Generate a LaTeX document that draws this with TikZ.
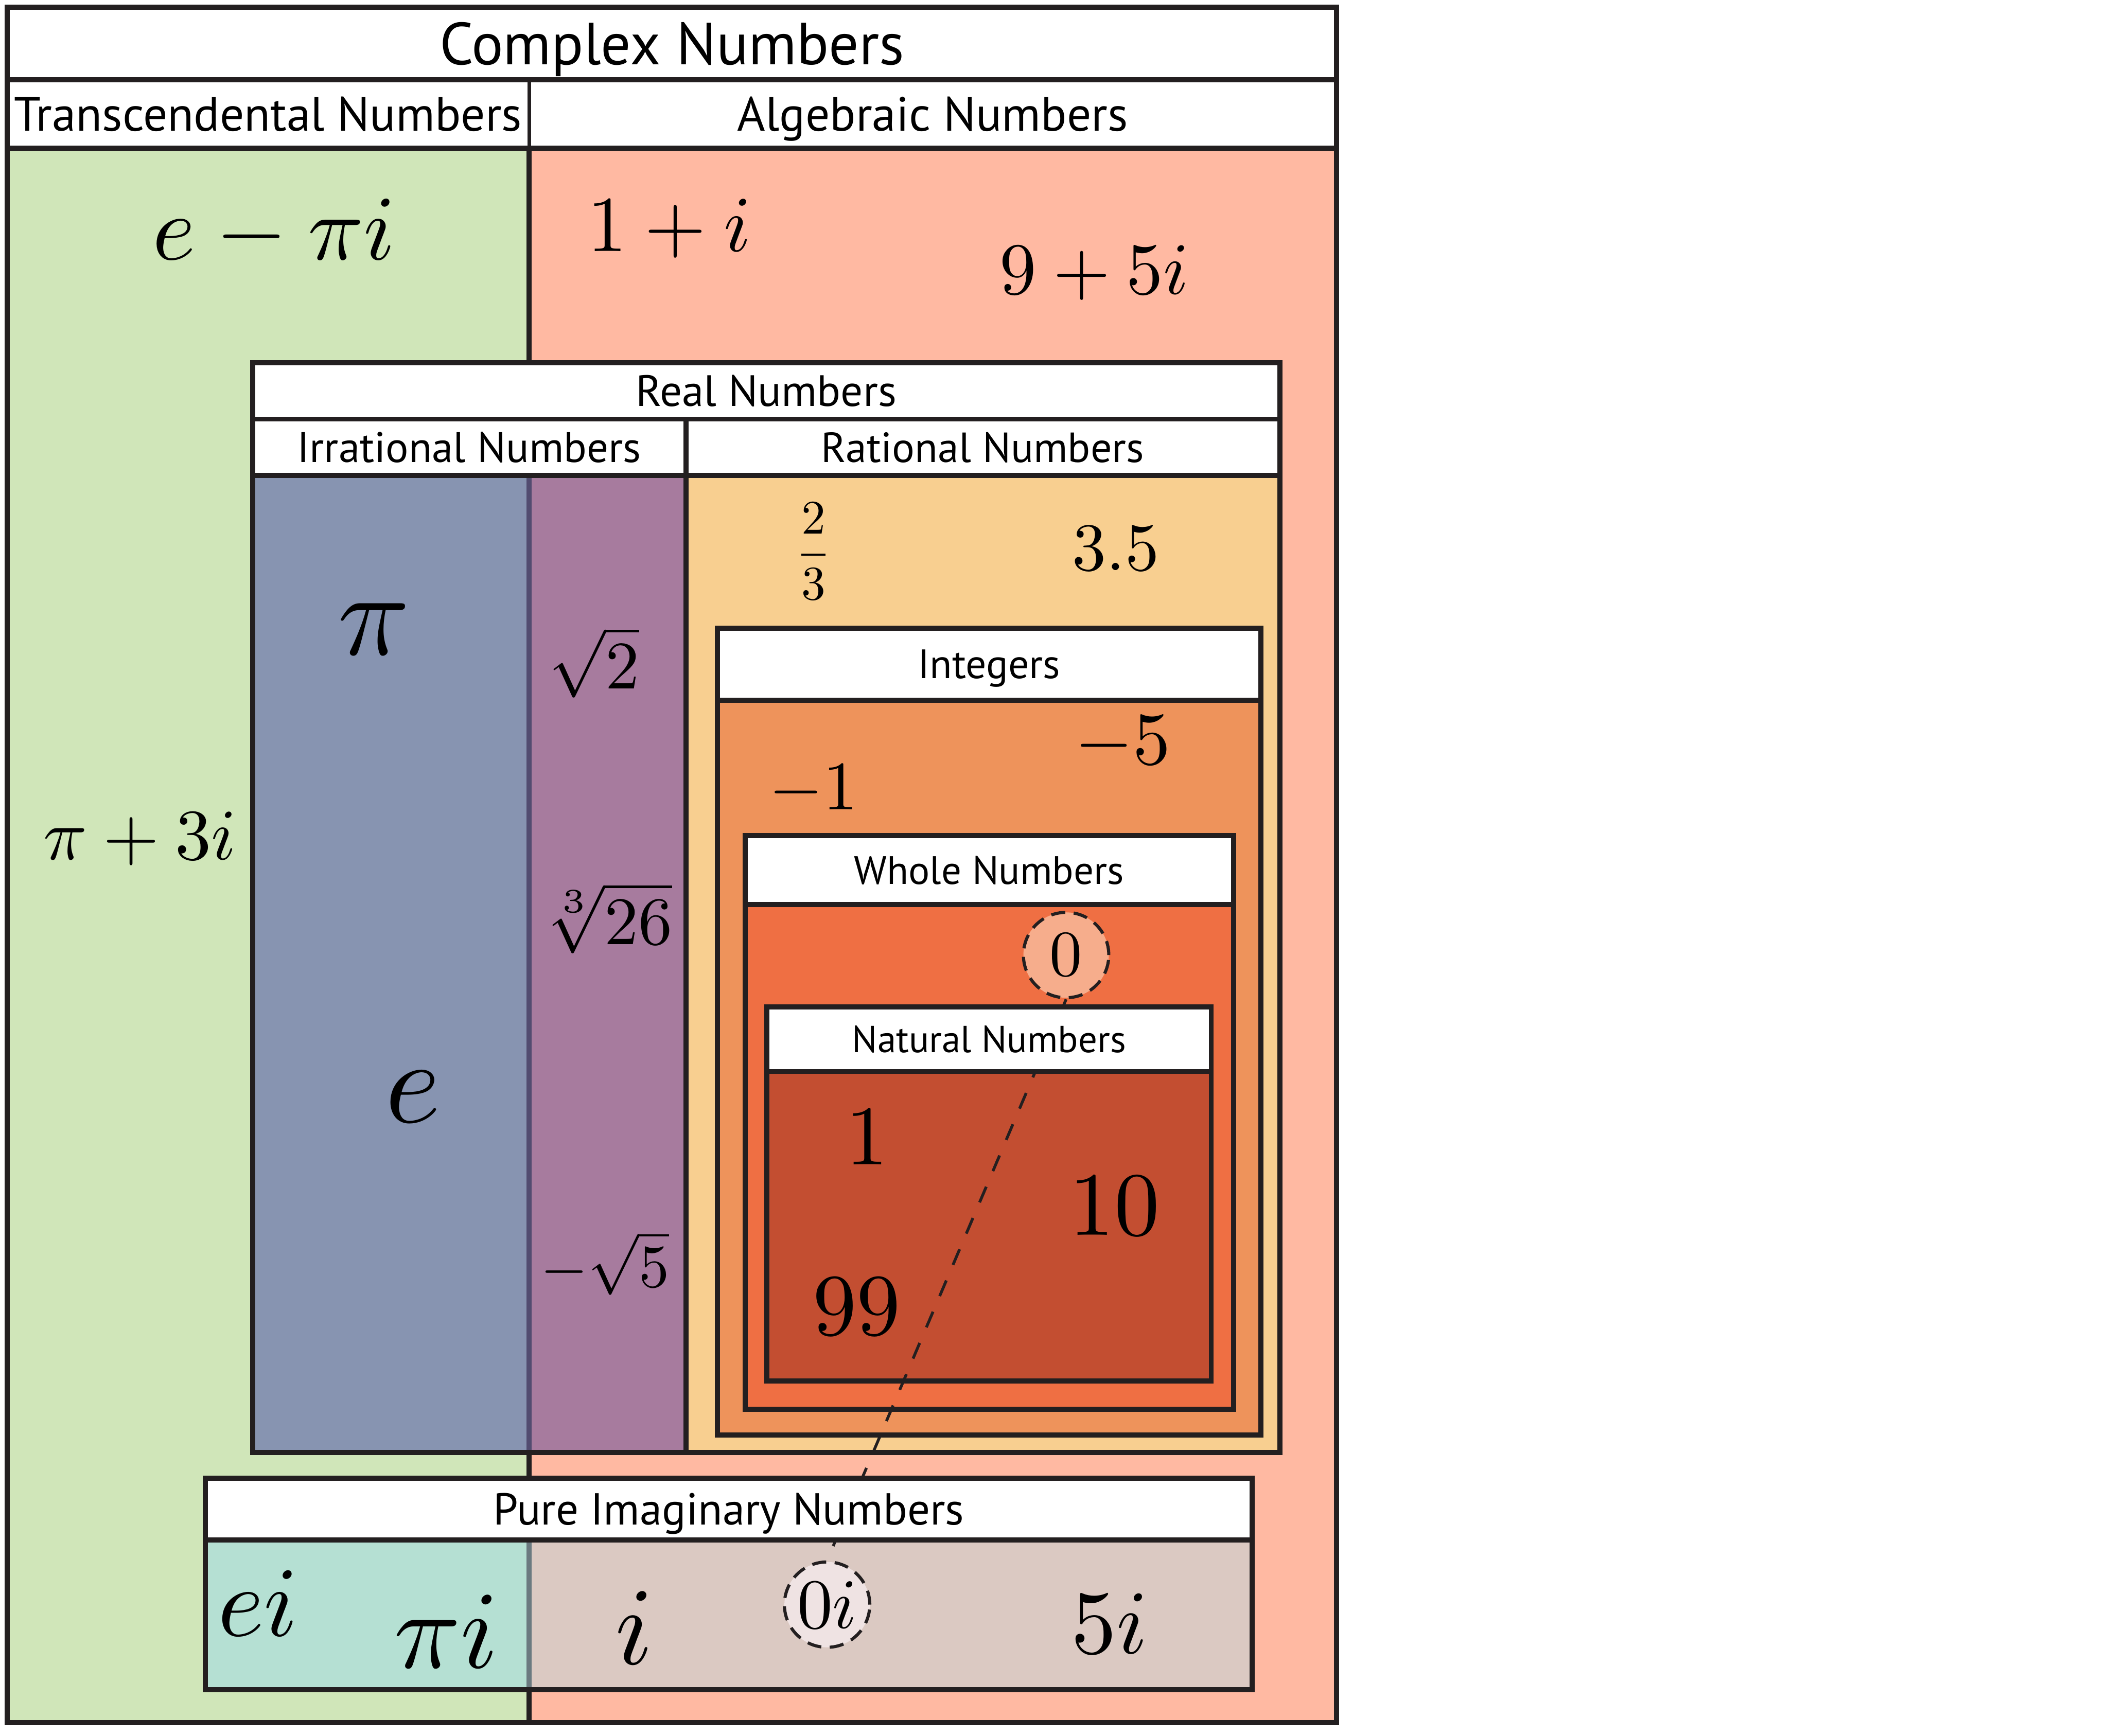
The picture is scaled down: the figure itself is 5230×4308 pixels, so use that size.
\documentclass[tikz,border=0pt]{standalone}
\usepackage{amsmath}
\usepackage{graphicx}
\usepackage{fontspec}
\newfontfamily\labelfont{PT Sans}
\usetikzlibrary{positioning}
\definecolor{inkline}{HTML}{231F20}
\definecolor{transgreen}{HTML}{D0E6B9}
\definecolor{algsalmon}{HTML}{FFB9A2}
\definecolor{irrblue}{HTML}{8794B1}
\definecolor{irrpurple}{HTML}{A77B9E}
\definecolor{ratyellow}{HTML}{F8CF90}
\definecolor{intorange}{HTML}{EE935B}
\definecolor{wholeorange}{HTML}{EF6F43}
\definecolor{natred}{HTML}{C34E31}
\definecolor{imagteal}{HTML}{B5E0D3}
\definecolor{imagbeige}{HTML}{DBC9C2}
\definecolor{zerofill}{HTML}{F6AD8C}
\definecolor{zeroifill}{HTML}{EFE3E3}
\definecolor{irrsplit}{HTML}{524C70}
\definecolor{imagsplit}{HTML}{6B7A80}
% 10pt math, blown up
\newcommand{\bignum}[2]{\scalebox{#1}{$#2$}}

\begin{document}
\begin{tikzpicture}[
  x=0.005cm, y=-0.005cm,
  frame/.style={draw=inkline, line width=1.8pt},
  headtext/.style={font=\labelfont\fontsize{#1}{#1}\selectfont, text height=0.7*#1pt, text depth=0pt, inner sep=0pt},
  numtext/.style={inner sep=0pt},
  zeroring/.style={circle, draw=inkline, line width=1.1pt, dash pattern=on 5pt off 3pt, inner sep=0pt, minimum size=1.06cm},
  zeroline/.style={draw=inkline, line width=1pt, dash pattern=on 6pt off 6pt}
]
\useasboundingbox (0,0) rectangle (5230,4308);

% complex numbers: transcendental / algebraic halves
\fill[white] (18,18) rectangle (3316,368);
\fill[transgreen] (18,368) rectangle (1313,4275);
\fill[algsalmon] (1313,368) rectangle (3316,4275);

% real numbers
\fill[white] (627,900) rectangle (3175,1180);
\fill[irrblue] (627,1180) rectangle (1313,3605);
\fill[irrpurple] (1313,1180) rectangle (1702,3605);
\fill[ratyellow] (1702,1180) rectangle (3175,3605);
% integers, whole, natural
\fill[intorange] (1780,1738) rectangle (3128,3561);
\fill[wholeorange] (1849,2245) rectangle (3060,3497);
\fill[natred] (1903,2659) rectangle (3005,3427);
% pure imaginary
\fill[imagteal] (510,3821) rectangle (1313,4193);
\fill[imagbeige] (1313,3821) rectangle (3106,4193);

% split transcendental | algebraic
\draw[inkline, line width=1.2pt] (1313,198) -- (1313,368);
\draw[inkline, line width=1.8pt] (1313,368) -- (1313,900) (1313,3605) -- (1313,3668) (1313,4193) -- (1313,4275);
\draw[irrsplit, line width=1.8pt] (1313,1180) -- (1313,3605);
\draw[imagsplit, line width=1.8pt] (1313,3821) -- (1313,4193);

% zero and 0i
\node[zeroring, fill=zerofill] (zero) at (2645,2370) {\bignum{2.3}{0}};
\node[zeroring, fill=zeroifill] (zeroi) at (2052,3982) {\bignum{2.5}{0i}};
\draw[zeroline] (zero.south) -- (zeroi.north);

% header cells (hide the dashed line)
\fill[white] (1780,1559) rectangle (3128,1738);
\fill[white] (1849,2074) rectangle (3060,2245);
\fill[white] (1903,2499) rectangle (3005,2659);
\fill[white] (510,3668) rectangle (3106,3821);

% frames
\draw[frame] (18,18) rectangle (3316,4275);
\draw[frame] (18,198) -- (3316,198) (18,368) -- (3316,368);
\draw[frame] (627,900) rectangle (3175,3605);
\draw[frame] (627,1040) -- (3175,1040) (627,1180) -- (3175,1180) (1702,1040) -- (1702,3605);
\draw[frame] (1780,1559) rectangle (3128,3561) (1780,1738) -- (3128,1738);
\draw[frame] (1849,2074) rectangle (3060,3497) (1849,2245) -- (3060,2245);
\draw[frame] (1903,2499) rectangle (3005,3427) (1903,2659) -- (3005,2659);
\draw[frame] (510,3668) rectangle (3106,4193) (510,3821) -- (3106,3821);

% set names
\node[headtext=21] (complex) at (1667,108) {Complex Numbers};
\node[headtext=17] (trans) at (665,283) {Transcendental Numbers};
\node[headtext=17] (alg) at (2314,283) {Algebraic Numbers};
\node[headtext=15.5] (real) at (1901,970) {Real Numbers};
\node[headtext=15.1] (irr) at (1164,1110) {Irrational Numbers};
\node[headtext=14.9] (rat) at (2438,1110) {Rational Numbers};
\node[headtext=14.5] (int) at (2454,1648) {Integers};
\node[headtext=14] (whole) at (2454,2160) {Whole Numbers};
\node[headtext=13.3] (natural) at (2454,2579) {Natural Numbers};
\node[headtext=15.8] (pure) at (1808,3745) {Pure Imaginary Numbers};

% examples
\node[numtext] (eminuspii) at (680,578) {\bignum{3.25}{e-\pi i}};
\node[numtext] (oneplusi) at (1661,567) {\bignum{2.8}{1+i}};
\node[numtext] (nineplusfivei) at (2715,677) {\bignum{2.6}{9+5i}};
\node[numtext] (piplusthreei) at (347,2081) {\bignum{2.55}{\pi+3i}};
\node[numtext] (pi) at (927,1561) {\bignum{4.2}{\pi}};
\node[numtext] (e) at (1024,2722) {\bignum{4.2}{e}};
\node[numtext] (sqrttwo) at (1474,1644) {\bignum{2.4}{\sqrt{2}}};
\node[numtext] (cbrt) at (1508,2278) {\bignum{2.4}{\sqrt[3]{26}}};
\node[numtext] (negsqrtfive) at (1501,3135) {\bignum{2.15}{-\sqrt{5}}};
\node[numtext] (twothirds) at (2018,1368) {\bignum{1.7}{\dfrac{2}{3}}};
\node[numtext] (threehalf) at (2768,1361) {\bignum{2.4}{3.5}};
\node[numtext] (negfive) at (2785,1844) {\bignum{2.65}{-5}};
\node[numtext] (negone) at (2018,1961) {\bignum{2.45}{-1}};
\node[numtext] (one) at (2151,2822) {\bignum{3.0}{1}};
\node[numtext] (ten) at (2765,2992) {\bignum{3.2}{10}};
\node[numtext] (ninetynine) at (2125,3242) {\bignum{3.1}{99}};
\node[numtext] (ei) at (640,3979) {\bignum{3.5}{ei}};
\node[numtext] (pii) at (1107,4049) {\bignum{3.9}{\pi i}};
\node[numtext] (i) at (1574,4039) {\bignum{3.9}{i}};
\node[numtext] (fivei) at (2752,4029) {\bignum{3.2}{5i}};
\end{tikzpicture}
\end{document}
